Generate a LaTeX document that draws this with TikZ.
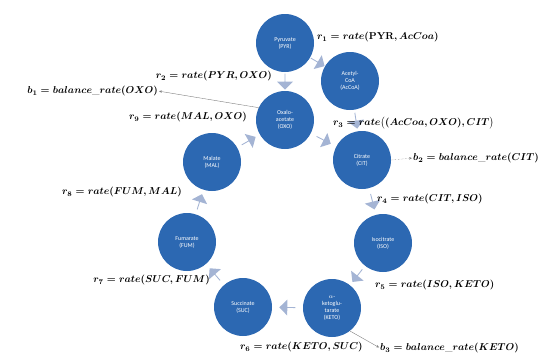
\documentclass[tikz,border=0pt]{standalone}
\usepackage{fontspec}
\newfontfamily\metabfont{Carlito}
\usetikzlibrary{shapes.arrows,arrows.meta}

\definecolor{cycleblue}{RGB}{44,104,178}
\definecolor{flowgray}{RGB}{164,180,212}

\tikzset{
  metab/.style={circle, fill=cycleblue, text=white, minimum size=58pt,
    inner sep=0pt, align=center, font=\metabfont\fontsize{6}{7}\selectfont},
  flow/.style={single arrow, fill=flowgray, minimum height=16pt,
    minimum width=16pt, single arrow head extend=3.5pt, inner sep=0pt,
    sloped, allow upside down},
  ratelabel/.style={inner sep=0pt, font=\boldmath},
  outflow/.style={draw=gray, thin, shorten >=1pt, -{Stealth[length=3pt,width=2.5pt]}}
}

\begin{document}
\begin{tikzpicture}[x=1pt,y=-1pt]
  \useasboundingbox (0,0) rectangle (543,356);

  % Metabolites of the cycle
  \node[metab] (pyr)   at (285,43)  {Pyruvate\\(PYR)};
  \node[metab] (accoa) at (350,81)  {Acetyl-\\CoA\\(AcCoA)};
  \node[metab] (oxo)   at (285,120) {Oxalo-\\acetate\\(OXO)};
  \node[metab] (cit)   at (362,160) {Citrate\\(CIT)};
  \node[metab] (iso)   at (383,243) {Isocitrate\\(ISO)};
  \node[metab] (keto)  at (332,308) {$\alpha$-\\ketoglu-\\tarate\\(KETO)};
  \node[metab] (suc)   at (243,307) {Succinate\\(SUC)};
  \node[metab] (fum)   at (187,242) {Fumarate\\(FUM)};
  \node[metab] (mal)   at (212,162) {Malate\\(MAL)};

  % Flow arrows between metabolites
  \path (pyr)   -- node[flow] (f1) {} (accoa);
  \path (pyr)   -- node[flow] (f2) {} (oxo);
  \path (accoa) -- node[flow] (f3) {} (cit);
  \path (oxo)   -- node[flow] (f4) {} (cit);
  \path (cit)   -- node[flow] (f5) {} (iso);
  \path (iso)   -- node[flow] (f6) {} (keto);
  \path (keto)  -- node[flow] (f7) {} (suc);
  \path (suc)   -- node[flow] (f8) {} (fum);
  \path (fum)   -- node[flow] (f9) {} (mal);
  \path (mal)   -- node[flow] (f10) {} (oxo);

  % Rate labels
  \node[ratelabel, anchor=west] (r1) at (317,37)  {$r_1 = rate(\mathbf{PYR}, AcCoa)$};
  \node[ratelabel, anchor=east] (r2) at (272,76)  {$r_2 = rate(PYR, OXO)$};
  \node[ratelabel, anchor=west] (r3) at (333,123) {$r_3 = rate\big((AcCoa, OXO), CIT\big)$};
  \node[ratelabel, anchor=west] (r4) at (377,199) {$r_4 = rate(CIT, ISO)$};
  \node[ratelabel, anchor=west] (r5) at (375,285) {$r_5 = rate(ISO, KETO)$};
  \node[ratelabel, anchor=west] (r6) at (240,347) {$r_6 = rate(KETO, SUC)$};
  \node[ratelabel, anchor=east] (r7) at (210,280) {$r_7 = rate(SUC, FUM)$};
  \node[ratelabel, anchor=east] (r8) at (182,192) {$r_8 = rate(FUM, MAL)$};
  \node[ratelabel, anchor=east] (r9) at (247,117) {$r_9 = rate(MAL, OXO)$};

  % Balance rates
  \node[ratelabel, anchor=east] (b1) at (158,91)  {$b_1 = balance\_rate(OXO)$};
  \node[ratelabel, anchor=west] (b2) at (413,158) {$b_2 = balance\_rate(CIT)$};
  \node[ratelabel, anchor=west] (b3) at (380,348) {$b_3 = balance\_rate(KETO)$};
  \draw[outflow] (oxo.155) -- (b1.east);
  \draw[outflow, densely dotted] (cit.east) -- (b2.west);
  \draw[outflow] (keto.-52) -- (b3.west);
\end{tikzpicture}
\end{document}
